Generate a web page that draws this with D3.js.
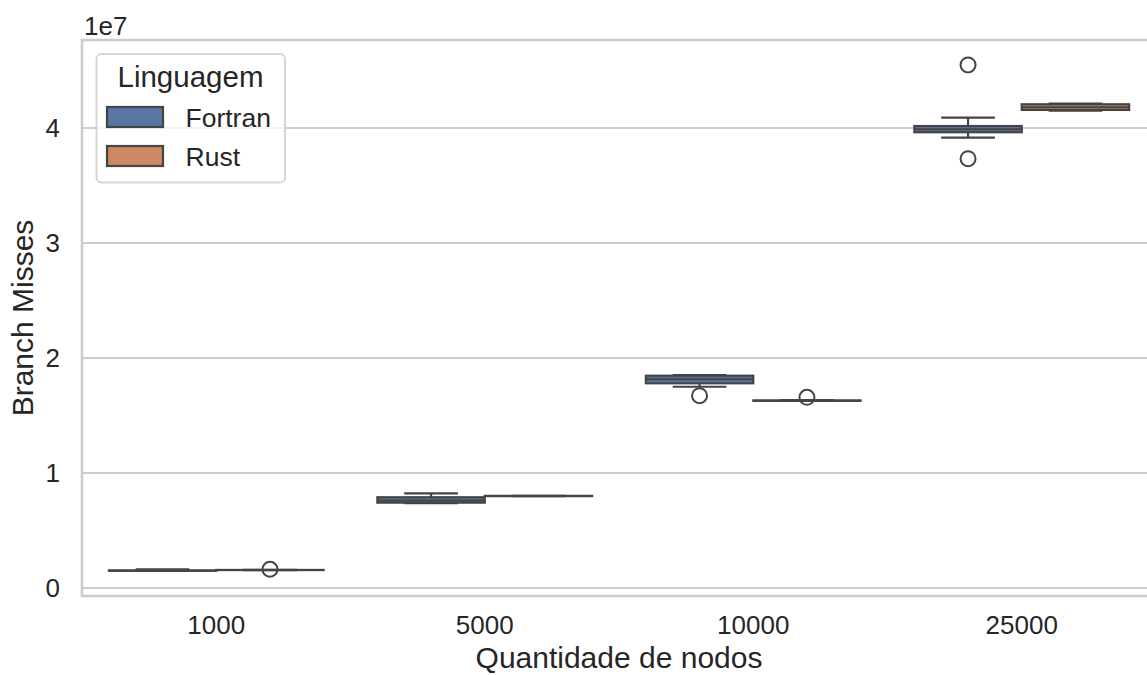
<!DOCTYPE html>
<html>
<head>
<meta charset="utf-8">
<script src="https://cdn.jsdelivr.net/npm/d3@7"></script>
<style>
  html, body { margin: 0; padding: 0; background: #fff; }
  svg { display: block; font-family: "Liberation Sans", Arial, sans-serif; }
</style>
</head>
<body>
<svg id="chart" width="1147" height="675"></svg>
<script>
// Categories and series
const categories = ["1000", "5000", "10000", "25000"];
const languages = ["Fortran", "Rust"];
const colors = ["#5975a4", "#cc8963"];

// Box statistics per category: [lower whisker, Q1, median, Q3, upper whisker]
const fortranStats = [
  [1.48e6, 1.50e6, 1.51e6, 1.53e6, 1.62e6],
  [7.37e6, 7.42e6, 7.60e6, 7.89e6, 8.23e6],
  [1.750e7, 1.780e7, 1.815e7, 1.846e7, 1.852e7],
  [3.916e7, 3.963e7, 3.990e7, 4.017e7, 4.090e7]
];
const rustStats = [
  [1.55e6, 1.56e6, 1.565e6, 1.57e6, 1.58e6],
  [7.98e6, 7.99e6, 8.00e6, 8.01e6, 8.02e6],
  [1.626e7, 1.628e7, 1.629e7, 1.631e7, 1.633e7],
  [4.150e7, 4.157e7, 4.180e7, 4.206e7, 4.212e7]
];
// Outlier points per category
const fortranOutliers = [[], [], [1.672e7], [4.548e7, 3.733e7]];
const rustOutliers = [[1.63e6], [], [1.658e7], []];

const yTicks = [0, 1e7, 2e7, 3e7, 4e7];
const yTickLabels = ["0", "1", "2", "3", "4"];
const yDomain = [-0.0696e7, 4.765e7];

const svg = d3.select("#chart");
const plot = { left: 82, right: 1156, top: 40, bottom: 596 };

const x = d3.scaleBand().domain(categories).range([plot.left, plot.right]).padding(0);
const xInner = d3.scaleBand().domain(languages).range([0, x.bandwidth()]).paddingOuter(0.25).paddingInner(0);
const y = d3.scaleLinear().domain(yDomain).range([plot.bottom, plot.top]);

const gridColor = "#cccccc";
const lineColor = "#444444";

// Horizontal gridlines
svg.append("g")
  .selectAll("line")
  .data(yTicks)
  .join("line")
  .attr("x1", plot.left).attr("x2", plot.right)
  .attr("y1", d => y(d)).attr("y2", d => y(d))
  .attr("stroke", gridColor).attr("stroke-width", 2.2);

// Spines
const spines = svg.append("g").attr("stroke", gridColor).attr("stroke-width", 2.6).attr("fill", "none");
spines.append("rect")
  .attr("x", plot.left).attr("y", plot.top)
  .attr("width", plot.right - plot.left).attr("height", plot.bottom - plot.top);

// Y axis
const yAxis = d3.axisLeft(y).tickValues(yTicks).tickFormat((d, i) => yTickLabels[i]).tickSize(0).tickPadding(22);
const yG = svg.append("g").attr("transform", `translate(${plot.left},0)`).call(yAxis);
yG.select(".domain").remove();
yG.selectAll("text").attr("font-size", 26).attr("fill", "#262626").attr("font-family", "Liberation Sans, Arial, sans-serif");

// X axis
const xAxis = d3.axisBottom(x).tickSize(0).tickPadding(20);
const xG = svg.append("g").attr("transform", `translate(0,${plot.bottom})`).call(xAxis);
xG.select(".domain").remove();
xG.selectAll("text").attr("font-size", 26).attr("fill", "#262626").attr("font-family", "Liberation Sans, Arial, sans-serif");

// Offset label
svg.append("text").attr("x", 84).attr("y", 35)
  .attr("font-size", 26).attr("fill", "#262626").text("1e7");

// Axis titles
svg.append("text")
  .attr("x", (plot.left + plot.right) / 2).attr("y", 668)
  .attr("text-anchor", "middle").attr("font-size", 30).attr("fill", "#262626")
  .text("Quantidade de nodos");
svg.append("text")
  .attr("transform", `translate(33,${(plot.top + plot.bottom) / 2}) rotate(-90)`)
  .attr("text-anchor", "middle").attr("font-size", 30).attr("fill", "#262626")
  .text("Branch Misses");

// Boxes
const series = [
  { name: "Fortran", stats: fortranStats, outliers: fortranOutliers, color: colors[0] },
  { name: "Rust", stats: rustStats, outliers: rustOutliers, color: colors[1] }
];
const boxW = xInner.bandwidth();
const boxesG = svg.append("g");
series.forEach(s => {
  categories.forEach((c, i) => {
    const [lo, q1, med, q3, hi] = s.stats[i];
    const cx = x(c) + xInner(s.name) + boxW / 2;
    const g = boxesG.append("g");
    // whiskers
    g.append("line").attr("x1", cx).attr("x2", cx).attr("y1", y(q3)).attr("y2", y(hi))
      .attr("stroke", lineColor).attr("stroke-width", 2.2);
    g.append("line").attr("x1", cx).attr("x2", cx).attr("y1", y(q1)).attr("y2", y(lo))
      .attr("stroke", lineColor).attr("stroke-width", 2.2);
    // caps
    [lo, hi].forEach(v => {
      g.append("line").attr("x1", cx - boxW / 4).attr("x2", cx + boxW / 4)
        .attr("y1", y(v)).attr("y2", y(v))
        .attr("stroke", lineColor).attr("stroke-width", 2.2);
    });
    // box
    g.append("rect")
      .attr("x", cx - boxW / 2).attr("width", boxW)
      .attr("y", y(q3)).attr("height", Math.max(0, y(q1) - y(q3)))
      .attr("fill", s.color).attr("stroke", lineColor).attr("stroke-width", 2.2);
    // median
    g.append("line").attr("x1", cx - boxW / 2).attr("x2", cx + boxW / 2)
      .attr("y1", y(med)).attr("y2", y(med))
      .attr("stroke", lineColor).attr("stroke-width", 2);
    // outliers
    g.selectAll("circle").data(s.outliers[i]).join("circle")
      .attr("cx", cx).attr("cy", d => y(d)).attr("r", 7.5)
      .attr("fill", "none").attr("stroke", lineColor).attr("stroke-width", 2);
  });
});

// Legend
const legend = svg.append("g");
legend.append("rect")
  .attr("x", 96.5).attr("y", 54).attr("width", 188.5).attr("height", 128.5)
  .attr("rx", 5).attr("fill", "#ffffff").attr("fill-opacity", 0.8)
  .attr("stroke", "#d6d6d6").attr("stroke-width", 2);
legend.append("text").attr("x", 190.5).attr("y", 87)
  .attr("text-anchor", "middle").attr("font-size", 29.5).attr("fill", "#262626")
  .text("Linguagem");
languages.forEach((name, i) => {
  const top = 107 + i * 39;
  legend.append("rect").attr("x", 107).attr("y", top).attr("width", 56).attr("height", 20)
    .attr("fill", colors[i]).attr("stroke", lineColor).attr("stroke-width", 2.2);
  legend.append("text").attr("x", 185.5).attr("y", top + 20)
    .attr("font-size", 26.5).attr("fill", "#262626").text(name);
});
</script>
</body>
</html>
